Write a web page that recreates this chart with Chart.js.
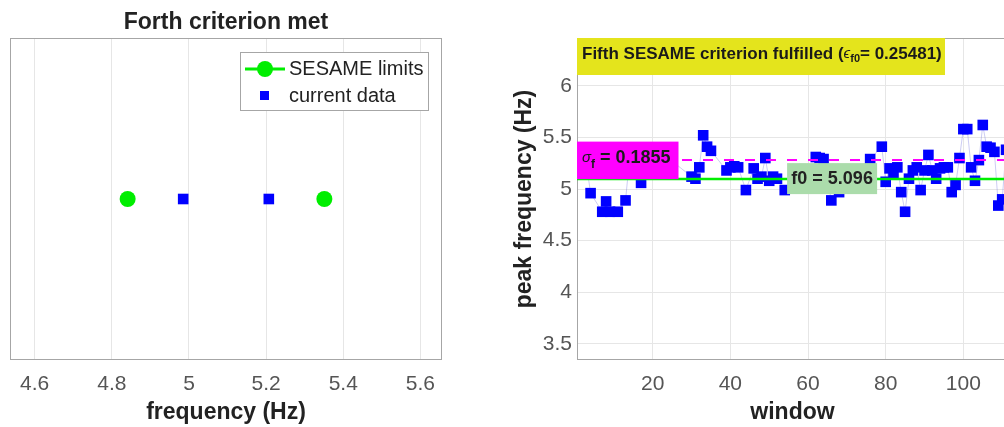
<!DOCTYPE html>
<html>
<head>
<meta charset="utf-8">
<script src="https://cdn.jsdelivr.net/npm/chart.js@4.4.0/dist/chart.umd.min.js"></script>
<style>
  html, body { margin: 0; padding: 0; background: #fff; overflow: hidden; }
  #page { position: relative; width: 1004px; height: 427px; overflow: hidden; background: #fff; }
  #leftBox { position: absolute; left: 0; top: 0; width: 460px; height: 427px; }
  #rightBox { position: absolute; left: 490px; top: 0; width: 530px; height: 427px; }
</style>
</head>
<body>
<div id="page">
  <div id="leftBox"><canvas id="critChart"></canvas></div>
  <div id="rightBox"><canvas id="peakChart"></canvas></div>
</div>
<script>
// left panel: fourth criterion
const freqTicks = [4.6, 4.8, 5.0, 5.2, 5.4, 5.6];
const sesameLimits = [4.841, 5.351];
const currentData = [4.985, 5.207];

// right panel: peak frequency per window
const windows = [1, 2, 3, 4, 7, 8, 9, 11, 13, 14, 16, 17, 19, 21, 23, 25,
    30, 31, 32, 33, 34, 35, 39, 40, 41, 42, 44, 46, 47, 48, 49, 50, 51, 52, 54,
    57, 59, 61, 62, 63, 64, 66, 68, 70, 72, 74, 76, 79, 80, 81, 82, 83, 84, 85,
    86, 87, 88, 89, 90, 91, 92, 93, 94, 95, 96, 97, 98, 99, 100, 101, 102, 103,
    104, 105, 106, 107, 108, 109, 110, 111];
const peakFreq = [5.25, 5.32, 5.22, 4.96, 4.78, 4.88, 4.78, 4.78, 4.89, 5.28, 5.36, 5.06, 5.30, 5.22, 5.35, 5.27,
    5.12, 5.10, 5.21, 5.52, 5.41, 5.37, 5.18, 5.21, 5.22, 5.21, 4.99, 5.20, 5.10, 5.12, 5.30, 5.08, 5.12, 5.10, 4.99,
    5.10, 5.05, 5.15, 5.31, 5.30, 5.29, 4.89, 4.97, 5.08, 5.12, 5.05, 5.29, 5.41, 5.07, 5.20, 5.15, 5.21, 4.97, 4.78,
    5.10, 5.18, 5.21, 4.99, 5.18, 5.33, 5.18, 5.10, 5.20, 5.21, 5.21, 4.97, 5.04, 5.30, 5.58, 5.58, 5.21, 5.08,
    5.28, 5.62, 5.41, 5.40, 5.36, 4.84, 4.90, 5.38];
const windowTicks = [20, 40, 60, 80, 100];
const peakTicks = [3.5, 4, 4.5, 5, 5.5, 6];
const windowRange = [0.5, 111.5];
const f0 = 5.096;
const sigmaF = 0.1855;
const epsF0 = 0.25481;

const FONT = '"Liberation Sans", Arial, sans-serif';
Chart.defaults.font.family = FONT;

// box around the axes, like matlab
const frame = {
    id: 'frame',
    beforeDatasetsDraw(chart) {
        const {ctx, chartArea: a} = chart;
        ctx.save();
        ctx.strokeStyle = '#a6a6a6';
        ctx.lineWidth = 1;
        ctx.strokeRect(a.left + 0.5, a.top + 0.5, a.right - a.left - 1, a.bottom - a.top - 1);
        ctx.restore();
    }
};

function drawRuns(ctx, x, y, runs) {
    runs.forEach(r => {
        ctx.font = r.font;
        ctx.fillText(r.text, x, y + (r.dy || 0));
        x += ctx.measureText(r.text).width;
    });
    return x;
}

const legendBox = {
    id: 'legendBox',
    afterDraw(chart) {
        const {ctx, chartArea: a} = chart;
        const bx = a.right - 202, by = a.top + 14, bw = 188, bh = 58;
        ctx.save();
        ctx.fillStyle = '#fff';
        ctx.fillRect(bx, by, bw, bh);
        ctx.strokeStyle = '#a6a6a6';
        ctx.strokeRect(bx + 0.5, by + 0.5, bw, bh);
        // SESAME limits
        ctx.strokeStyle = '#00ee00';
        ctx.lineWidth = 3;
        ctx.beginPath();
        ctx.moveTo(bx + 5, by + 17);
        ctx.lineTo(bx + 45, by + 17);
        ctx.stroke();
        ctx.fillStyle = '#00ee00';
        ctx.beginPath();
        ctx.arc(bx + 25, by + 17, 8, 0, Math.PI * 2);
        ctx.fill();
        // current data
        ctx.fillStyle = '#0000ff';
        ctx.fillRect(bx + 20, by + 39, 9, 9);
        ctx.fillStyle = '#222';
        ctx.font = '20px ' + FONT;
        ctx.textBaseline = 'middle';
        ctx.fillText('SESAME limits', bx + 49, by + 17);
        ctx.fillText('current data', bx + 49, by + 44);
        ctx.restore();
    }
};

const peakLabels = {
    id: 'peakLabels',
    afterDatasetsDraw(chart) {
        const {ctx, chartArea: a, scales: {x, y}} = chart;
        const yf0 = y.getPixelForValue(f0);
        ctx.save();
        ctx.textBaseline = 'middle';
        // yellow banner
        ctx.fillStyle = '#e4e41c';
        ctx.fillRect(a.left, a.top, 368, 37);
        ctx.fillStyle = '#1a1a1a';
        drawRuns(ctx, a.left + 5, a.top + 16, [
            {text: 'Fifth SESAME criterion fulfilled (', font: 'bold 17px ' + FONT},
            {text: '\u03F5', font: 'italic 15px ' + FONT},
            {text: 'f0', font: 'bold 11px ' + FONT, dy: 5},
            {text: '= ' + epsF0 + ')', font: 'bold 17px ' + FONT}
        ]);
        // sigma box
        ctx.fillStyle = '#ff00ff';
        ctx.fillRect(a.left, yf0 - 37.5, 101.5, 37.5);
        ctx.fillStyle = '#1a1a1a';
        drawRuns(ctx, a.left + 5, yf0 - 21, [
            {text: '\u03C3', font: 'italic 15px ' + FONT},
            {text: 'f', font: 'bold 12px ' + FONT, dy: 7},
            {text: ' = ' + sigmaF, font: 'bold 18px ' + FONT}
        ]);
        // f0 box
        const cx = x.getPixelForValue(66.2);
        ctx.fillStyle = '#abdcab';
        ctx.fillRect(cx - 45, yf0 - 16, 90, 31);
        ctx.fillStyle = '#222';
        ctx.font = 'bold 18px ' + FONT;
        ctx.textAlign = 'center';
        ctx.fillText('f0 = ' + f0, cx, yf0);
        ctx.restore();
    }
};

const tickFont = {size: 21};
const titleFont = {size: 23, weight: 'bold'};

new Chart(document.getElementById('critChart'), {
    type: 'scatter',
    data: {
        datasets: [{
            label: 'SESAME limits',
            data: sesameLimits.map(v => ({x: v, y: 0})),
            backgroundColor: '#00ee00',
            borderColor: '#00ee00',
            pointRadius: 8,
            pointBorderWidth: 0,
        }, {
            label: 'current data',
            data: currentData.map(v => ({x: v, y: 0})),
            backgroundColor: '#0000ff',
            borderColor: '#0000ff',
            pointStyle: 'rect',
            pointRadius: 7.5,
            pointBorderWidth: 0,
        }]
    },
    options: {
        responsive: true,
        maintainAspectRatio: false,
        animation: false,
        layout: {padding: {left: 10, right: 18, top: 0, bottom: 0}},
        plugins: {
            legend: {display: false},
            tooltip: {enabled: false},
            title: {
                display: true,
                text: 'Forth criterion met',
                color: '#222',
                font: titleFont,
                padding: {top: 9, bottom: 1.4}
            }
        },
        scales: {
            x: {
                type: 'linear',
                min: 4.536,
                max: 5.656,
                afterBuildTicks: s => { s.ticks = freqTicks.map(v => ({value: v})); },
                afterFit: s => { s.height = 67; },
                border: {display: false},
                grid: {color: '#e6e6e6', drawTicks: false},
                ticks: {color: '#555', font: tickFont, padding: 12,
                    callback: v => String(Math.round(v * 10) / 10)},
                title: {display: true, text: 'frequency (Hz)', color: '#222', font: titleFont,
                    padding: {top: 0, bottom: 1}}
            },
            y: {display: false, min: -1, max: 1}
        }
    },
    plugins: [frame, legendBox]
});

new Chart(document.getElementById('peakChart'), {
    type: 'line',
    data: {
        datasets: [{
            label: 'f0',
            data: windowRange.map(w => ({x: w, y: f0})),
            borderColor: '#00ee00',
            borderWidth: 2.5,
            pointRadius: 0,
        }, {
            label: 'f0 + sigma',
            data: windowRange.map(w => ({x: w, y: f0 + sigmaF})),
            borderColor: '#ff00ff',
            borderWidth: 2,
            borderDash: [10, 11],
            pointRadius: 0,
        }, {
            label: 'peak frequency',
            data: windows.map((w, i) => ({x: w, y: peakFreq[i]})),
            borderColor: 'rgba(110, 110, 220, 0.35)',
            borderWidth: 1,
            backgroundColor: '#0000ff',
            pointStyle: 'rect',
            pointRadius: 7.5,
            pointBorderWidth: 0,
            tension: 0,
        }]
    },
    options: {
        responsive: true,
        maintainAspectRatio: false,
        animation: false,
        layout: {padding: {left: 0, right: 12, top: 38, bottom: 0}},
        plugins: {
            legend: {display: false},
            tooltip: {enabled: false}
        },
        scales: {
            x: {
                type: 'linear',
                min: windowRange[0],
                max: windowRange[1],
                afterBuildTicks: s => { s.ticks = windowTicks.map(v => ({value: v})); },
                afterFit: s => { s.height = 67; },
                border: {display: false},
                grid: {color: '#e6e6e6', drawTicks: false},
                ticks: {color: '#555', font: tickFont, padding: 12},
                title: {display: true, text: 'window', color: '#222', font: titleFont,
                    padding: {top: 0, bottom: 1}}
            },
            y: {
                min: 3.345,
                max: 6.462,
                afterBuildTicks: s => { s.ticks = peakTicks.map(v => ({value: v})); },
                afterFit: s => { s.width = 87; },
                border: {display: false},
                grid: {color: '#e6e6e6', drawTicks: false},
                ticks: {color: '#555', font: tickFont, padding: 5, callback: v => String(v)},
                title: {display: true, text: 'peak frequency (Hz)', color: '#222', font: titleFont,
                    padding: {top: 21, bottom: 0}}
            }
        }
    },
    plugins: [frame, peakLabels]
});
</script>
</body>
</html>
